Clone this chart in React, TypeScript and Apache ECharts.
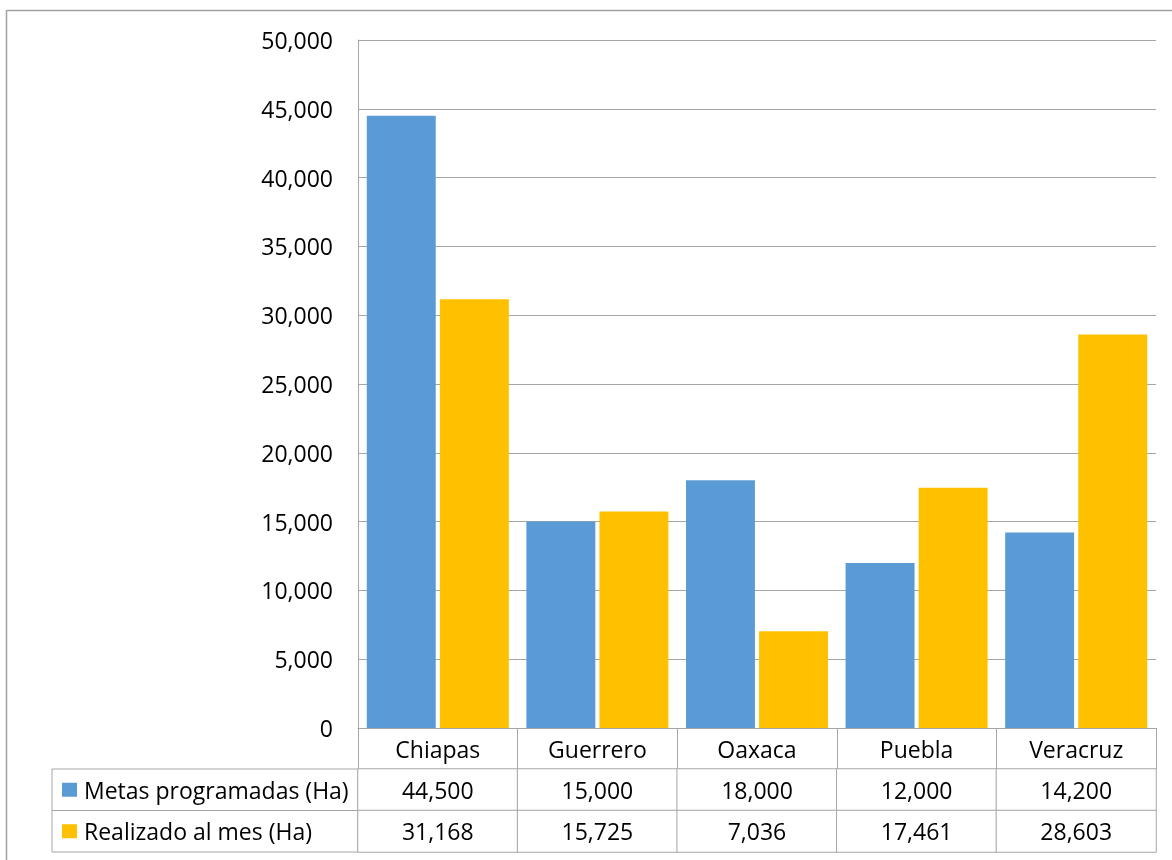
import React, { useEffect, useRef } from "react";
import * as echarts from "echarts";

const categories = ["Chiapas", "Guerrero", "Oaxaca", "Puebla", "Veracruz"];
const seriesNames = ["Metas programadas (Ha)", "Realizado al mes (Ha)"];
const metas = [44500, 15000, 18000, 12000, 14200];
const realizado = [31168, 15725, 7036, 17461, 28603];
const yMin = 0;
const yMax = 50000;
const yInterval = 5000;

const BLUE = "#5B9BD5";
const YELLOW = "#FFC000";
const GRID = "#a6a6a6";
const FONT = "'Open Sans', sans-serif";
const FS = 23;

const fmt = (v: number) => v.toLocaleString("en-US");

export default function App() {
  const ref = useRef<HTMLDivElement>(null);
  useEffect(() => {
    document.body.style.margin = "0";
    const chart = echarts.init(ref.current!, null, { renderer: "svg" });
    const cells: any[] = [];
    categories.forEach((_, i) => {
      cells.push([i, 0, metas[i]]);
      cells.push([i, 1, realizado[i]]);
    });
    chart.setOption({
      animation: false,
      textStyle: { fontFamily: FONT },
      grid: [
        { left: 358, right: 16, top: 40, bottom: 132, containLabel: false },
        { left: 358, right: 16, top: 769, bottom: 8, containLabel: false },
      ],
      xAxis: [
        {
          type: "category",
          gridIndex: 0,
          data: categories,
          axisLine: { show: true, lineStyle: { color: GRID, width: 1 } },
          axisTick: { show: true, alignWithLabel: false, length: 41, lineStyle: { color: GRID, width: 1 } },
          axisLabel: { color: "#000", fontSize: FS, fontFamily: FONT, margin: 21, verticalAlign: "middle" },
          splitLine: { show: false },
        },
        {
          type: "category",
          gridIndex: 1,
          data: categories,
          axisLine: { show: false },
          axisTick: { show: false },
          axisLabel: { show: false },
          splitLine: { show: false },
        },
      ],
      yAxis: [
        {
          type: "value",
          gridIndex: 0,
          min: yMin,
          max: yMax,
          interval: yInterval,
          axisLine: { show: true, lineStyle: { color: GRID, width: 1 } },
          axisTick: { show: false },
          axisLabel: { color: "#000", fontSize: FS, fontFamily: FONT, margin: 25, formatter: (v: number) => fmt(v) },
          splitLine: { show: true, lineStyle: { color: GRID, width: 1 } },
        },
        {
          type: "category",
          gridIndex: 1,
          data: seriesNames,
          inverse: true,
          axisLine: { show: false },
          axisTick: { show: false },
          splitLine: { show: false },
          axisLabel: {
            align: "left",
            margin: 296,
            formatter: (v: string, idx: number) => `{s${idx}|}{t|${v}}`,
            rich: {
              s0: { width: 15, height: 14, backgroundColor: BLUE },
              s1: { width: 15, height: 14, backgroundColor: YELLOW },
              t: { color: "#000", fontSize: FS, fontFamily: FONT, padding: [0, 0, 0, 7] },
            },
          },
        },
      ],
      visualMap: {
        show: false,
        type: "continuous",
        min: 0,
        max: 50000,
        seriesIndex: 2,
        inRange: { color: ["#ffffff", "#ffffff"] },
      },
      series: [
        {
          name: seriesNames[0],
          type: "bar",
          xAxisIndex: 0,
          yAxisIndex: 0,
          data: metas,
          barCategoryGap: "11%",
          barGap: "6%",
          itemStyle: { color: BLUE },
        },
        {
          name: seriesNames[1],
          type: "bar",
          xAxisIndex: 0,
          yAxisIndex: 0,
          data: realizado,
          barCategoryGap: "11%",
          barGap: "6%",
          itemStyle: { color: YELLOW },
        },
        {
          type: "heatmap",
          xAxisIndex: 1,
          yAxisIndex: 1,
          data: cells,
          itemStyle: { borderColor: GRID, borderWidth: 1 },
          label: {
            show: true,
            color: "#000",
            fontSize: FS,
            fontFamily: FONT,
            formatter: (p: any) => fmt(p.value[2]),
          },
          emphasis: { disabled: true },
        },
      ],
      graphic: [
        { type: "line", shape: { x1: 6.5, y1: 10.5, x2: 1172, y2: 10.5 }, style: { stroke: "#a0a0a0", lineWidth: 1.5 } },
        { type: "line", shape: { x1: 6.5, y1: 10.5, x2: 6.5, y2: 860 }, style: { stroke: "#a0a0a0", lineWidth: 1.5 } },
        { type: "rect", shape: { x: 52, y: 769, width: 306, height: 83 }, style: { fill: "none", stroke: GRID, lineWidth: 1 } },
        { type: "line", shape: { x1: 52, y1: 810.5, x2: 358, y2: 810.5 }, style: { stroke: GRID, lineWidth: 1 } },
      ],
    });
    return () => chart.dispose();
  }, []);
  return <div ref={ref} style={{ position: "fixed", left: 0, top: 0, width: 1172, height: 860 }} />;
}
